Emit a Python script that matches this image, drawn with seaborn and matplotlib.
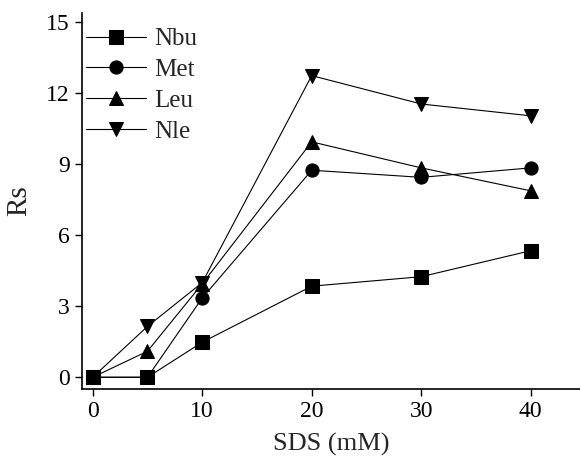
import matplotlib
matplotlib.use("Agg")
import matplotlib.pyplot as plt
import seaborn as sns
import pandas as pd

sds = [0, 5, 10, 20, 30, 40]
nbu = [0, 0, 1.48, 3.85, 4.25, 5.35]
met = [0, 0, 3.35, 8.75, 8.45, 8.85]
leu = [0, 1.1, 3.95, 9.95, 8.85, 7.88]
nle = [0, 2.15, 4.0, 12.75, 11.55, 11.05]
series = ["Nbu", "Met", "Leu", "Nle"]
markers = ["s", "o", "^", "v"]

df = pd.DataFrame({
    "SDS": sds * 4,
    "Rs": nbu + met + leu + nle,
    "series": [s for s in series for _ in sds],
})

sns.set_style("ticks")
plt.rcParams["font.family"] = ["Liberation Serif", "DejaVu Serif"]

fig = plt.figure(figsize=(5.8, 4.61), dpi=100)
ax = fig.add_axes([0.141, 0.156, 0.859, 0.816])

sns.lineplot(data=df, x="SDS", y="Rs", hue="series", style="series",
             markers=dict(zip(series, markers)), dashes=False,
             palette=["black"] * 4, hue_order=series, style_order=series,
             linewidth=0.8, markersize=9.5, markeredgecolor="black",
             ax=ax, legend=True)

ax.set_xlim(-1, 44.5)
ax.set_ylim(-0.5, 15.4)
ax.set_xticks([0, 10, 20, 30, 40])
ax.set_yticks([0, 3, 6, 9, 12, 15])
ax.tick_params(labelsize=17, direction="out", length=5, width=1, colors="black")
ax.set_xlabel("SDS (mM)", fontsize=19, labelpad=8)
ax.set_ylabel("Rs", fontsize=21, labelpad=10)
for s in ["top", "right"]:
    ax.spines[s].set_visible(False)
for s in ["left", "bottom"]:
    ax.spines[s].set_linewidth(1.2)
    ax.spines[s].set_color("black")

leg = ax.legend(loc="upper left", bbox_to_anchor=(0.008, 0.96), frameon=False,
                fontsize=18, handlelength=2.4, handletextpad=0.35,
                labelspacing=0.33, borderaxespad=0, borderpad=0)

fig.savefig("out.png", dpi=100)
